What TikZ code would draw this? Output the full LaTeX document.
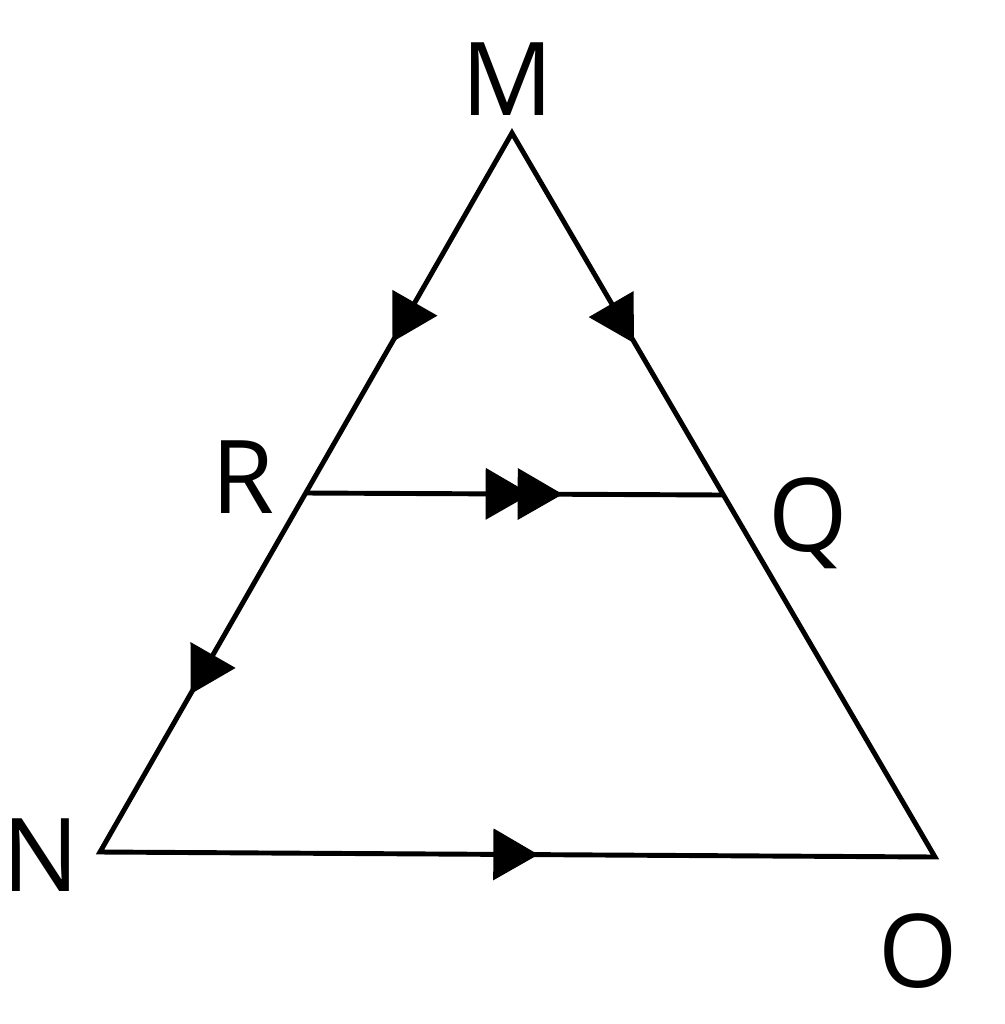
\documentclass[tikz,border=0pt]{standalone}
\usepackage{fontspec}
\setmainfont{Open Sans}
\usetikzlibrary{decorations.markings}
\newcommand{\headshape}{\fill (0,0) -- (-0.45,0.26) -- (-0.45,-0.26) -- cycle;}
\tikzset{
  edge/.style={line width=1.4pt, line join=miter},
  headat/.style={postaction={decorate},
    decoration={markings, mark=at position #1 with {\headshape}}},
  dheadat/.style 2 args={postaction={decorate},
    decoration={markings, mark=at position #1 with {\headshape},
                          mark=at position #2 with {\headshape}}},
  lbl/.style={font=\fontsize{29}{35}\selectfont, inner sep=0pt,
    text height=7.4mm, text depth=0pt, anchor=center}
}
\begin{document}
\begin{tikzpicture}
\useasboundingbox (0,0) rectangle (10.05,-10.24);
\coordinate (M) at (5.12,-1.33);
\coordinate (N) at (1.00,-8.52);
\coordinate (O) at (9.35,-8.57);
\coordinate (R) at (3.06,-4.93);
\coordinate (Q) at (7.22,-4.95);
% triangle outline
\draw[edge] (N) -- (M) -- (O) -- cycle;
% transversal
\draw[edge, dheadat={0.54}{0.617}] (R) -- (Q);
% arrow heads on sides
\path[headat=0.58] (M) -- (R);
\path[headat=0.56] (R) -- (N);
\path[headat=0.58] (M) -- (Q);
\path[headat=0.525] (N) -- (O);
% labels
\node[lbl] (lM) at (5.08,-0.78) {M};
\node[lbl] (lR) at (2.43,-4.76) {R};
\node[lbl] (lQ) at (8.08,-5.14) {Q};
\node[lbl] (lN) at (0.41,-8.54) {N};
\node[lbl] (lO) at (9.18,-9.50) {O};
\end{tikzpicture}
\end{document}
